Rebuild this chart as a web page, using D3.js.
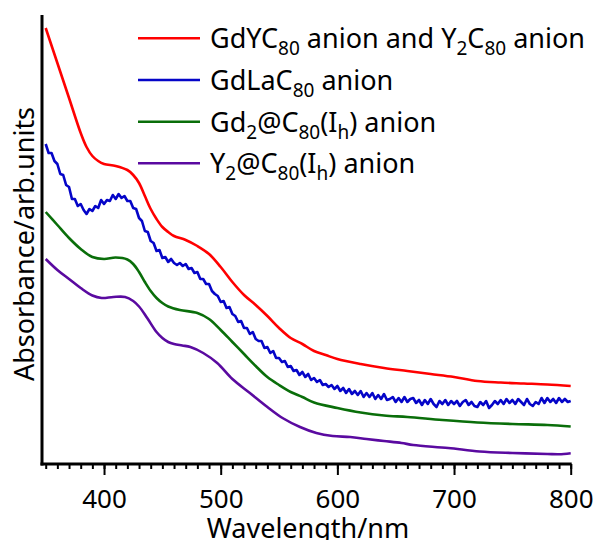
<!DOCTYPE html>
<html>
<head>
<meta charset="utf-8">
<script src="https://cdn.jsdelivr.net/npm/d3@7"></script>
<style>
  html, body { margin: 0; padding: 0; background: #fff; }
  svg { display: block; }
  text { font-family: "Noto Sans", "DejaVu Sans", sans-serif; fill: #000; }
</style>
</head>
<body>
<svg id="chart" width="598" height="540"></svg>
<script>
// ---------------- data (wavelength in nm, absorbance in arb. units) ----------------
const redWl   = [350,360,370,380,385,390,395,400,410,420,425,430,435,440,445,450,455,460,470,480,490,500,510,520,530,540,550,560,570,580,590,600,620,640,660,680,700,720,740,760,780,800];
const redAbs  = [4.36,4.01,3.66,3.31,3.17,3.08,3.03,3.00,2.98,2.94,2.89,2.81,2.68,2.55,2.45,2.37,2.32,2.28,2.24,2.18,2.10,1.97,1.82,1.69,1.59,1.48,1.36,1.26,1.20,1.13,1.09,1.05,1.00,0.96,0.93,0.90,0.87,0.83,0.815,0.805,0.795,0.78];

const blueWl  = [350,352.5,355,357.5,360,362.5,365,367.5,370,372.5,375,377.5,380,382.5,385,387.5,390,392.5,395,397.5,
  400,402.5,405,407.5,410,412.5,415,417.5,420,422.5,425,427.5,430,432.5,435,437.5,440,442.5,445,447.5,
  450,452.5,455,457.5,460,462.5,465,467.5,470,472.5,475,477.5,480,482.5,485,487.5,490,492.5,495,497.5,
  500,502.5,505,507.5,510,512.5,515,517.5,520,522.5,525,527.5,530,532.5,535,537.5,540,542.5,545,547.5,
  550,552.5,555,557.5,560,562.5,565,567.5,570,572.5,575,577.5,580,582.5,585,587.5,590,592.5,595,597.5,
  600,602.5,605,607.5,610,612.5,615,617.5,620,622.5,625,627.5,630,632.5,635,637.5,640,642.5,645,647.5,
  650,652.5,655,657.5,660,662.5,665,667.5,670,672.5,675,677.5,680,682.5,685,687.5,690,692.5,695,697.5,
  700,702.5,705,707.5,710,712.5,715,717.5,720,722.5,725,727.5,730,732.5,735,737.5,740,742.5,745,747.5,
  750,752.5,755,757.5,760,762.5,765,767.5,770,772.5,775,777.5,780,782.5,785,787.5,790,792.5,795,797.5,800];
const blueAbs = [3.20,3.11,3.11,3.03,3.00,2.90,2.89,2.79,2.77,2.65,2.65,2.58,2.60,2.54,2.50,2.55,2.53,2.58,2.56,2.64,
  2.60,2.64,2.63,2.69,2.65,2.70,2.66,2.68,2.63,2.63,2.56,2.55,2.46,2.43,2.33,2.32,2.23,2.21,2.13,2.14,
  2.06,2.07,2.02,2.05,2.01,1.99,2.01,1.98,2.00,1.95,1.96,1.91,1.92,1.85,1.85,1.80,1.80,1.73,1.70,1.68,
  1.62,1.63,1.56,1.57,1.50,1.48,1.42,1.43,1.36,1.36,1.30,1.32,1.25,1.23,1.23,1.16,1.17,1.11,1.13,1.06,
  1.06,1.02,1.03,0.97,0.98,0.93,0.94,0.89,0.92,0.87,0.90,0.84,0.86,0.82,0.84,0.79,0.80,0.77,0.79,0.75,
  0.78,0.73,0.76,0.71,0.75,0.70,0.73,0.69,0.73,0.67,0.71,0.67,0.71,0.65,0.69,0.65,0.70,0.64,0.65,0.67,
  0.62,0.66,0.62,0.67,0.62,0.65,0.66,0.61,0.64,0.59,0.64,0.60,0.65,0.60,0.57,0.63,0.60,0.64,0.59,0.63,
  0.60,0.63,0.58,0.62,0.64,0.59,0.62,0.58,0.57,0.62,0.59,0.63,0.56,0.59,0.63,0.60,0.64,0.60,0.65,0.61,
  0.64,0.60,0.65,0.62,0.59,0.65,0.60,0.58,0.62,0.60,0.66,0.61,0.66,0.62,0.65,0.61,0.66,0.62,0.65,0.62,0.63];

const greenWl  = [350,360,370,380,390,400,410,420,425,430,435,440,445,450,455,465,480,490,500,510,520,530,540,550,560,570,580,600,620,640,660,690,720,750,780,800];
const greenAbs = [2.52,2.39,2.26,2.15,2.07,2.05,2.065,2.045,2.00,1.92,1.82,1.73,1.66,1.61,1.575,1.54,1.51,1.45,1.34,1.22,1.10,0.98,0.87,0.79,0.72,0.67,0.615,0.56,0.515,0.485,0.47,0.44,0.415,0.40,0.39,0.375];

const purpleWl  = [350,360,370,380,390,398,408,418,425,430,437,445,450,455,460,467,474,485,497,510,525,540,553,568,582,596,611,625,640,655,665,695,722,750,780,790,800];
const purpleAbs = [2.05,1.94,1.85,1.76,1.685,1.66,1.67,1.67,1.63,1.575,1.46,1.32,1.26,1.22,1.20,1.185,1.17,1.11,1.01,0.85,0.71,0.57,0.46,0.37,0.31,0.28,0.27,0.25,0.23,0.21,0.19,0.16,0.125,0.11,0.10,0.097,0.107];

const seriesColors = ["#ff0000","#0505c8","#0a6e0a","#5a0aa0"];
const majorTicks = [400,500,600,700,800];
const xLabel = "Wavelength/nm";
const yLabel = "Absorbance/arb.units";

// ---------------- layout ----------------
const svg = d3.select("#chart");
const x = d3.scaleLinear().domain([350, 800]).range([45.7, 570.7]);
const y = d3.scaleLinear().domain([0, 4.49]).range([464, 15]);

const series = [
  {wl: redWl, abs: redAbs},
  {wl: blueWl, abs: blueAbs},
  {wl: greenWl, abs: greenAbs},
  {wl: purpleWl, abs: purpleAbs}
];

// curves
series.forEach((s, i) => {
  const pts = s.wl.map((w, k) => [w, s.abs[k]]);
  const line = d3.line()
    .x(d => x(d[0])).y(d => y(d[1]))
    .curve(i === 1 ? d3.curveLinear : d3.curveCatmullRom.alpha(0.5));
  svg.append("path")
    .attr("d", line(pts))
    .attr("fill", "none")
    .attr("stroke", seriesColors[i])
    .attr("stroke-width", 2.6)
    .attr("stroke-linejoin", "round");
});

// axes
const minorAxis = d3.axisBottom(x).tickValues(d3.range(350, 801, 10)).tickSize(5).tickFormat("");
const gMinor = svg.append("g").attr("transform", "translate(0,464)").call(minorAxis);
gMinor.select(".domain").remove();
gMinor.selectAll("line").attr("stroke", "#000").attr("stroke-width", 2);

const majorAxis = d3.axisBottom(x).tickValues(majorTicks).tickSize(11).tickPadding(14.5).tickFormat(d3.format("d"));
const gMajor = svg.append("g").attr("transform", "translate(0,464)").call(majorAxis);
gMajor.select(".domain").remove();
gMajor.selectAll("line").attr("stroke", "#000").attr("stroke-width", 2);
gMajor.selectAll("text").attr("font-size", 26).attr("font-family", "Noto Sans").attr("fill", "#000");

// axis lines
svg.append("line").attr("x1", 42).attr("x2", 42).attr("y1", 15).attr("y2", 465.5)
  .attr("stroke", "#000").attr("stroke-width", 3);
svg.append("line").attr("x1", 40.5).attr("x2", x(800) + 1).attr("y1", 464).attr("y2", 464)
  .attr("stroke", "#000").attr("stroke-width", 3);

// axis titles
svg.append("text").attr("x", 308).attr("y", 538).attr("text-anchor", "middle")
  .attr("font-size", 27).text(xLabel);
svg.append("text").attr("transform", "translate(34,244) rotate(-90)")
  .attr("text-anchor", "middle").attr("font-size", 27).text(yLabel);

// legend
const legendItems = [
  [["GdYC",0],["80",1],[" anion and Y",0],["2",1],["C",0],["80",1],[" anion",0]],
  [["GdLaC",0],["80",1],[" anion",0]],
  [["Gd",0],["2",1],["@C",0],["80",1],["(I",0],["h",1],[") anion",0]],
  [["Y",0],["2",1],["@C",0],["80",1],["(I",0],["h",1],[") anion",0]]
];
const legendBase = [48.3, 90, 131.7, 173.3];
legendItems.forEach((parts, i) => {
  const by = legendBase[i];
  svg.append("line").attr("x1", 138).attr("x2", 200).attr("y1", by - 10).attr("y2", by - 10)
    .attr("stroke", seriesColors[i]).attr("stroke-width", 2.6);
  const t = svg.append("text").attr("x", 210).attr("y", by).attr("font-size", 27);
  let shifted = false;
  parts.forEach(([str, sub]) => {
    const ts = t.append("tspan").text(str);
    if (sub && !shifted) { ts.attr("dy", 7).attr("font-size", 19); shifted = true; }
    else if (sub) { ts.attr("font-size", 19); }
    else if (!sub && shifted) { ts.attr("dy", -7); shifted = false; }
  });
});
</script>
</body>
</html>
